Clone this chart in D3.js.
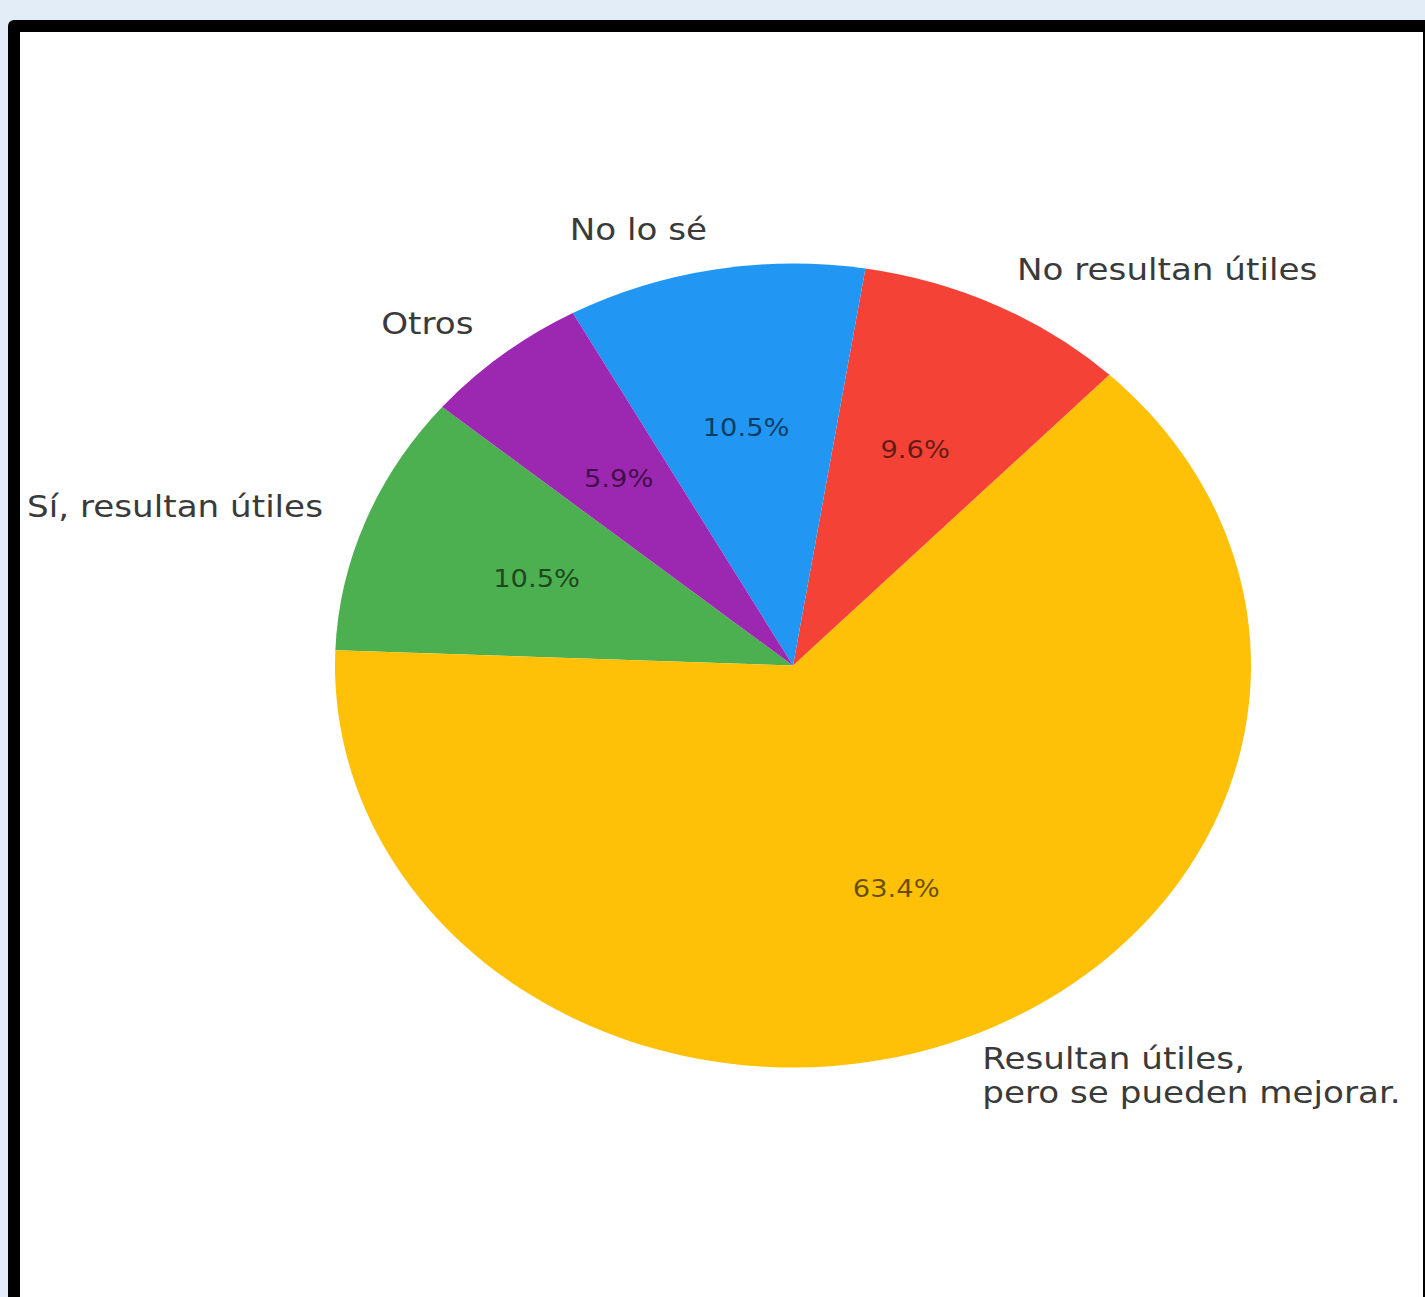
<!DOCTYPE html>
<html>
<head>
<meta charset="utf-8">
<script src="https://cdn.jsdelivr.net/npm/d3@7"></script>
<style>
  body { margin: 0; background: #e3edf7; overflow: hidden; }
  text { font-family: "DejaVu Sans", sans-serif; }
</style>
</head>
<body>
<script>
/*-----------------------------------------------------------------------------
Data: answer categories, their share (%) and the slice colours
-----------------------------------------------------------------------------*/
var categories = ["Sí, resultan útiles", "Resultan útiles,\npero se pueden mejorar.", "No resultan útiles", "No lo sé", "Otros"];
var shares = [10.5, 63.4, 9.6, 10.5, 5.9];
var colors = ["#4CAF50", "#FFC107", "#F44336", "#2196F3", "#9C27B0"];

var width = 1425,
    height = 1297,
    cx = 793,
    cy = 665.5,
    ry = 402,          // vertical radius
    rx = 458,          // horizontal radius (picture is stretched)
    startDeg = 140;    // counter clockwise from 3 o'clock, like matplotlib

var svg = d3.select("body").append("svg")
    .attr("width", width)
    .attr("height", height);

// frame
svg.append("rect").attr("x", 8).attr("y", 20).attr("width", 1440).attr("height", 1320)
    .attr("rx", 6).attr("fill", "#000");
svg.append("rect").attr("x", 20).attr("y", 32).attr("width", 1403).attr("height", 1300)
    .attr("fill", "#fff");

var data = categories.map(function(c, i) { return {name: c, value: shares[i], color: colors[i]}; });

// d3 angles run clockwise from 12 o'clock, so counter clockwise means going negative
var a0 = (90 - startDeg) * Math.PI / 180;
var pie = d3.pie()
    .sort(null)
    .value(function(d) { return d.value; })
    .startAngle(a0)
    .endAngle(a0 - 2 * Math.PI);

var arc = d3.arc().innerRadius(0).outerRadius(ry);

var g = svg.append("g")
    .attr("transform", "translate(" + cx + "," + cy + ") scale(" + (rx / ry) + ",1)");

var arcs = pie(data);

g.selectAll("path")
    .data(arcs)
  .enter().append("path")
    .attr("d", arc)
    .attr("fill", function(d) { return d.data.color; });

function pos(d, k) {
  var a = (d.startAngle + d.endAngle) / 2;
  return [k * ry * Math.sin(a), -k * ry * Math.cos(a)];
}

// percentage labels
g.selectAll(".pct")
    .data(arcs)
  .enter().append("text")
    .attr("class", "pct")
    .attr("x", function(d) { return pos(d, 0.6)[0]; })
    .attr("y", function(d) { return pos(d, 0.6)[1]; })
    .attr("text-anchor", "middle")
    .attr("dominant-baseline", "central")
    .attr("font-size", 24)
    .attr("fill", "#000")
    .attr("fill-opacity", 0.6)
    .text(function(d) { return d.data.value.toFixed(1) + "%"; });

// category labels
var lab = g.selectAll(".lab")
    .data(arcs)
  .enter().append("text")
    .attr("class", "lab")
    .attr("font-size", 30)
    .attr("fill", "#3a3a3a")
    .attr("text-anchor", function(d) { return pos(d, 1.1)[0] < 0 ? "end" : "start"; });

lab.each(function(d) {
  var p = pos(d, 1.1),
      lines = d.data.name.split("\n"),
      lh = 34,
      top = p[1] - (lines.length - 1) * lh / 2;
  d3.select(this).selectAll("tspan")
      .data(lines)
    .enter().append("tspan")
      .attr("x", p[0])
      .attr("y", function(l, i) { return top + i * lh; })
      .attr("dominant-baseline", "central")
      .text(function(l) { return l; });
});
</script>
</body>
</html>
